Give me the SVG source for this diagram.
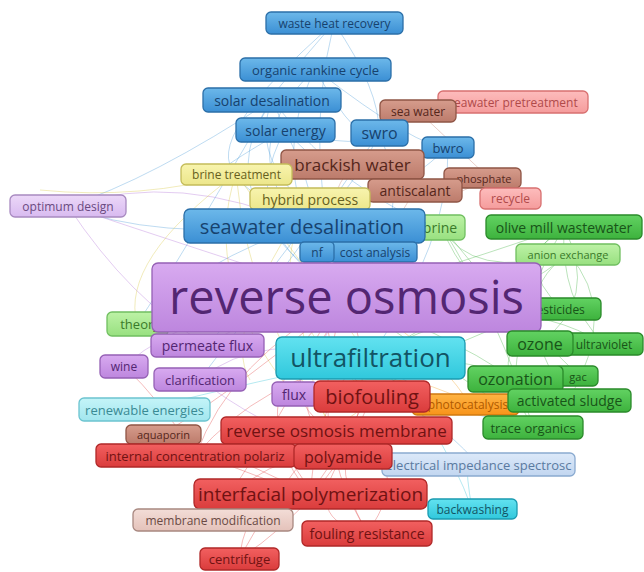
<svg xmlns="http://www.w3.org/2000/svg" width="644" height="572" viewBox="0 0 644 572">
<defs>
<linearGradient id="g-blue" x1="0" y1="0" x2="0" y2="1"><stop offset="0" stop-color="#6cb8ea"/><stop offset="1" stop-color="#3b8fd4"/></linearGradient>
<linearGradient id="g-purple" x1="0" y1="0" x2="0" y2="1"><stop offset="0" stop-color="#d8aaf0"/><stop offset="1" stop-color="#bd86de"/></linearGradient>
<linearGradient id="g-red" x1="0" y1="0" x2="0" y2="1"><stop offset="0" stop-color="#f26060"/><stop offset="1" stop-color="#da3c3c"/></linearGradient>
<linearGradient id="g-green" x1="0" y1="0" x2="0" y2="1"><stop offset="0" stop-color="#62d262"/><stop offset="1" stop-color="#3db23d"/></linearGradient>
<linearGradient id="g-lgreen" x1="0" y1="0" x2="0" y2="1"><stop offset="0" stop-color="#bdf2a6"/><stop offset="1" stop-color="#98e080"/></linearGradient>
<linearGradient id="g-brown" x1="0" y1="0" x2="0" y2="1"><stop offset="0" stop-color="#d69c8c"/><stop offset="1" stop-color="#bc7b6b"/></linearGradient>
<linearGradient id="g-pink" x1="0" y1="0" x2="0" y2="1"><stop offset="0" stop-color="#fdbcbc"/><stop offset="1" stop-color="#f59c9c"/></linearGradient>
<linearGradient id="g-yellow" x1="0" y1="0" x2="0" y2="1"><stop offset="0" stop-color="#f8f4ae"/><stop offset="1" stop-color="#ece68a"/></linearGradient>
<linearGradient id="g-cyan" x1="0" y1="0" x2="0" y2="1"><stop offset="0" stop-color="#62e2f0"/><stop offset="1" stop-color="#30c8dc"/></linearGradient>
<linearGradient id="g-lcyan" x1="0" y1="0" x2="0" y2="1"><stop offset="0" stop-color="#c4f4f8"/><stop offset="1" stop-color="#a2e6ee"/></linearGradient>
<linearGradient id="g-lblue" x1="0" y1="0" x2="0" y2="1"><stop offset="0" stop-color="#dce9f9"/><stop offset="1" stop-color="#c2d6f0"/></linearGradient>
<linearGradient id="g-orange" x1="0" y1="0" x2="0" y2="1"><stop offset="0" stop-color="#ffb444"/><stop offset="1" stop-color="#f8941a"/></linearGradient>
<linearGradient id="g-lpurple" x1="0" y1="0" x2="0" y2="1"><stop offset="0" stop-color="#ecd8f8"/><stop offset="1" stop-color="#d8baf0"/></linearGradient>
<linearGradient id="g-lbrown" x1="0" y1="0" x2="0" y2="1"><stop offset="0" stop-color="#f3ddd7"/><stop offset="1" stop-color="#e4c2ba"/></linearGradient>
</defs>
<style>
text{font-family:"Open Sans","DejaVu Sans",sans-serif;text-anchor:middle;dominant-baseline:central}
rect{stroke-width:1.3}
.blue rect{fill:url(#g-blue);stroke:#2b6fa8}.blue text{fill:#17426e}
.purple rect{fill:url(#g-purple);stroke:#9560b5}.purple text{fill:#532672}
.red rect{fill:url(#g-red);stroke:#b02828}.red text{fill:#701212}
.green rect{fill:url(#g-green);stroke:#2a8a2a}.green text{fill:#185418}
.lgreen rect{fill:url(#g-lgreen);stroke:#70bf60}.lgreen text{fill:#3a7a2a}
.brown rect{fill:url(#g-brown);stroke:#8f5545}.brown text{fill:#55261b}
.pink rect{fill:url(#g-pink);stroke:#d87070}.pink text{fill:#b04a4a}
.yellow rect{fill:url(#g-yellow);stroke:#c4bc5a}.yellow text{fill:#666020}
.cyan rect{fill:url(#g-cyan);stroke:#1a9ab0}.cyan text{fill:#125464}
.lcyan rect{fill:url(#g-lcyan);stroke:#6cc4d0}.lcyan text{fill:#3a8a94}
.lblue rect{fill:url(#g-lblue);stroke:#8aaad0}.lblue text{fill:#5a7aa0}
.orange rect{fill:url(#g-orange);stroke:#d07a10}.orange text{fill:#b05a00}
.lpurple rect{fill:url(#g-lpurple);stroke:#a88ac0}.lpurple text{fill:#6a4a80}
.lbrown rect{fill:url(#g-lbrown);stroke:#a88880}.lbrown text{fill:#6a4a44}
#connectors path{fill:none;stroke-width:0.8;stroke-opacity:0.45}
.cb{stroke:#4a9ad8}.cr{stroke:#e04040}.cg{stroke:#40b040}.cp{stroke:#b070d8}.cy{stroke:#d8c840}.co{stroke:#f0a020}.cc{stroke:#30c0d8}.cbr{stroke:#c07a6a}
</style>
<g id="connectors">
<path class="cb" d="M334 23 Q300 160 346 297"/>
<path class="cb" d="M315 69 Q260 180 346 297"/>
<path class="cb" d="M272 100 Q200 200 346 297"/>
<path class="cb" d="M285 130 Q230 230 346 297"/>
<path class="cb" d="M379 133 Q420 220 346 297"/>
<path class="cb" d="M448 147 Q450 240 370 358"/>
<path class="cb" d="M272 100 Q150 180 68 206"/>
<path class="cb" d="M285 130 Q180 190 236 174"/>
<path class="cb" d="M315 69 Q230 150 304 226"/>
<path class="cb" d="M334 23 Q250 120 272 100"/>
<path class="cb" d="M304 226 Q200 260 137 324"/>
<path class="cb" d="M304 226 Q150 240 68 206"/>
<path class="cb" d="M272 100 Q350 200 442 227"/>
<path class="cb" d="M285 130 Q380 160 418 111"/>
<path class="cb" d="M379 133 Q300 250 200 379"/>
<path class="cb" d="M315 69 Q360 150 379 133"/>
<path class="cb" d="M334 23 Q380 90 379 133"/>
<path class="cb" d="M272 100 Q300 170 352 164"/>
<path class="cb" d="M285 130 Q320 200 317 252"/>
<path class="cb" d="M272 100 Q240 180 375 252"/>
<path class="cb" d="M315 69 Q420 150 448 147"/>
<path class="cb" d="M304 226 Q230 180 236 174"/>
<path class="cb" d="M304 226 Q250 300 207 345"/>
<path class="cb" d="M379 133 Q350 200 304 226"/>
<path class="cb" d="M448 147 Q380 210 304 226"/>
<path class="cb" d="M334 23 Q200 140 236 174"/>
<path class="cb" d="M272 100 Q180 260 137 324"/>
<path class="cbr" d="M352 164 Q440 220 482 178"/>
<path class="cbr" d="M418 111 Q470 160 510 198"/>
<path class="cbr" d="M352 164 Q300 240 346 297"/>
<path class="cbr" d="M415 190 Q380 250 346 297"/>
<path class="cp" d="M68 206 Q200 250 346 297"/>
<path class="cp" d="M68 206 Q130 300 207 345"/>
<path class="cp" d="M124 366 Q200 300 346 297"/>
<path class="cp" d="M200 379 Q260 330 370 358"/>
<path class="cp" d="M68 206 Q180 170 304 226"/>
<path class="cy" d="M236 174 Q200 280 293 394"/>
<path class="cy" d="M310 199 Q250 300 372 396"/>
<path class="cy" d="M236 174 Q120 260 137 324"/>
<path class="cy" d="M236 174 Q140 200 40 190"/>
<path class="cy" d="M310 199 Q220 330 250 380"/>
<path class="cy" d="M236 174 Q250 320 336 430"/>
<path class="cy" d="M310 199 Q280 340 343 456"/>
<path class="cy" d="M236 174 Q300 260 370 358"/>
<path class="cg" d="M564 227 Q480 300 370 358"/>
<path class="cg" d="M568 254 Q480 330 346 297"/>
<path class="cg" d="M562 309 Q460 330 372 396"/>
<path class="cg" d="M540 343 Q460 280 442 227"/>
<path class="cg" d="M604 344 Q500 280 370 358"/>
<path class="cg" d="M515 379 Q440 330 346 297"/>
<path class="cg" d="M569 400 Q470 350 370 358"/>
<path class="cg" d="M533 427 Q450 370 346 297"/>
<path class="cg" d="M579 376 Q500 300 442 227"/>
<path class="cg" d="M564 227 Q600 300 540 343"/>
<path class="cg" d="M568 254 Q620 310 569 400"/>
<path class="cg" d="M137 324 Q250 300 346 297"/>
<path class="cg" d="M442 227 Q500 320 533 427"/>
<path class="cg" d="M564 227 Q470 260 346 297"/>
<path class="cg" d="M137 324 Q300 270 442 227"/>
<path class="cg" d="M564 227 Q520 300 515 379"/>
<path class="cg" d="M568 254 Q470 280 442 227"/>
<path class="cg" d="M604 344 Q560 300 564 227"/>
<path class="cg" d="M533 427 Q480 340 540 343"/>
<path class="cg" d="M569 400 Q500 300 568 254"/>
<path class="cg" d="M562 309 Q510 260 564 227"/>
<path class="cr" d="M336 430 Q260 400 346 297"/>
<path class="cr" d="M310 494 Q230 400 346 297"/>
<path class="cr" d="M239 559 Q300 450 336 430"/>
<path class="cr" d="M367 533 Q320 450 372 396"/>
<path class="cr" d="M343 456 Q260 380 372 396"/>
<path class="cr" d="M196 455 Q260 380 370 358"/>
<path class="cr" d="M213 520 Q260 450 343 456"/>
<path class="cr" d="M310 494 Q200 440 163 434"/>
<path class="cr" d="M239 559 Q330 500 372 396"/>
<path class="cr" d="M196 455 Q300 420 343 456"/>
<path class="cr" d="M367 533 Q420 460 336 430"/>
<path class="cr" d="M213 520 Q280 420 346 297"/>
<path class="cr" d="M310 494 Q320 380 370 358"/>
<path class="cr" d="M343 456 Q380 380 346 297"/>
<path class="cr" d="M163 434 Q250 380 346 297"/>
<path class="cr" d="M372 396 Q300 330 346 297"/>
<path class="cr" d="M196 455 Q230 360 346 297"/>
<path class="cr" d="M310 494 Q280 420 196 455"/>
<path class="cr" d="M367 533 Q300 420 346 297"/>
<path class="cr" d="M239 559 Q250 480 310 494"/>
<path class="cr" d="M213 520 Q240 470 310 494"/>
<path class="cr" d="M163 434 Q230 470 310 494"/>
<path class="cr" d="M343 456 Q300 520 367 533"/>
<path class="cr" d="M196 455 Q160 400 124 366"/>
<path class="cr" d="M310 494 Q360 420 343 456"/>
<path class="co" d="M470 404 Q420 330 346 297"/>
<path class="co" d="M470 404 Q380 380 336 430"/>
<path class="co" d="M470 404 Q400 360 293 394"/>
<path class="cc" d="M472 509 Q440 420 370 358"/>
<path class="cc" d="M144 409 Q260 380 370 358"/>
<path class="cc" d="M472 509 Q460 440 478 464"/>
<path class="cc" d="M370 358 Q460 420 533 427"/>
<path class="cb" d="M478 464 Q420 400 372 396"/>
<path class="cp" d="M207 345 Q280 300 346 297"/>
<path class="cp" d="M293 394 Q330 330 346 297"/>
<path class="cp" d="M200 379 Q250 420 343 456"/>
</g>
<g id="n-waste-heat-recovery" class="blue"><rect x="266" y="12" width="137" height="22" rx="5"/><text x="334.5" y="23" font-size="12">waste heat recovery</text></g>
<g id="n-organic-rankine-cycle" class="blue"><rect x="240" y="58" width="151" height="23" rx="5"/><text x="315.5" y="69.5" font-size="13">organic rankine cycle</text></g>
<g id="n-solar-desalination" class="blue"><rect x="203" y="88" width="138" height="24" rx="5"/><text x="272" y="100" font-size="14">solar desalination</text></g>
<g id="n-solar-energy" class="blue"><rect x="236" y="118" width="99" height="24" rx="5"/><text x="285.5" y="130" font-size="14">solar energy</text></g>
<g id="n-seawater-pretreatment" class="pink"><rect x="438" y="91" width="150" height="22" rx="5"/><text x="513" y="102" font-size="12">seawater pretreatment</text></g>
<g id="n-sea-water" class="brown"><rect x="380" y="100" width="76" height="22" rx="5"/><text x="418" y="111" font-size="12">sea water</text></g>
<g id="n-swro" class="blue"><rect x="351" y="120" width="57" height="26" rx="5"/><text x="379.5" y="133" font-size="16">swro</text></g>
<g id="n-bwro" class="blue"><rect x="422" y="137" width="52" height="21" rx="5"/><text x="448" y="147.5" font-size="13">bwro</text></g>
<g id="n-brackish-water" class="brown"><rect x="281" y="150" width="143" height="29" rx="5"/><text x="352.5" y="164.5" font-size="17">brackish water</text></g>
<g id="n-brine-treatment" class="yellow"><rect x="181" y="164" width="111" height="21" rx="5"/><text x="236.5" y="174.5" font-size="12">brine treatment</text></g>
<g id="n-phosphate" class="brown"><rect x="444" y="168" width="77" height="20" rx="5"/><text x="484" y="178" font-size="11">phosphate</text></g>
<g id="n-antiscalant" class="brown"><rect x="368" y="179" width="94" height="23" rx="5"/><text x="415" y="190.5" font-size="14">antiscalant</text></g>
<g id="n-recycle" class="pink"><rect x="480" y="188" width="61" height="21" rx="5"/><text x="510.5" y="198.5" font-size="12">recycle</text></g>
<g id="n-hybrid-process" class="yellow"><rect x="250" y="188" width="120" height="22" rx="5"/><text x="310" y="199" font-size="14">hybrid process</text></g>
<g id="n-optimum-design" class="lpurple"><rect x="10" y="195" width="116" height="22" rx="5"/><text x="68" y="206" font-size="12">optimum design</text></g>
<g id="n-brine" class="lgreen"><rect x="412" y="215" width="53" height="25" rx="5"/><text x="440" y="227.5" font-size="14">brine</text></g>
<g id="n-seawater-desalination" class="blue"><rect x="184" y="209" width="241" height="34" rx="6"/><text x="302" y="226" font-size="20">seawater desalination</text></g>
<g id="n-olive-mill-wastewater" class="green"><rect x="486" y="215" width="156" height="24" rx="5"/><text x="564" y="227" font-size="14">olive mill wastewater</text></g>
<g id="n-cost-analysis" class="blue"><rect x="330" y="242" width="87" height="20" rx="4"/><text x="375" y="252" font-size="12">cost analysis</text></g>
<g id="n-nf" class="blue"><rect x="300" y="242" width="34" height="20" rx="4"/><text x="317" y="252" font-size="12">nf</text></g>
<g id="n-anion-exchange" class="lgreen"><rect x="516" y="244" width="104" height="21" rx="5"/><text x="568" y="254.5" font-size="11">anion exchange</text></g>
<g id="n-pesticides" class="green"><rect x="510" y="298" width="91" height="22" rx="5"/><text x="557" y="309" font-size="12">pesticides</text></g>
<g id="n-theory" class="lgreen"><rect x="107" y="312" width="61" height="24" rx="5"/><text x="140" y="324" font-size="13">theory</text></g>
<g id="n-reverse-osmosis" class="purple"><rect x="152" y="263" width="389" height="69" rx="6"/><text x="346.5" y="296" font-size="47">reverse osmosis</text></g>
<g id="n-ultraviolet" class="green"><rect x="560" y="333" width="83" height="22" rx="5"/><text x="604" y="344" font-size="12">ultraviolet</text></g>
<g id="n-ozone" class="green"><rect x="507" y="331" width="66" height="25" rx="5"/><text x="540" y="343.5" font-size="16">ozone</text></g>
<g id="n-permeate-flux" class="purple"><rect x="151" y="334" width="113" height="23" rx="5"/><text x="207.5" y="345.5" font-size="14">permeate flux</text></g>
<g id="n-ultrafiltration" class="cyan"><rect x="276" y="337" width="189" height="42" rx="6"/><text x="370.5" y="357" font-size="26">ultrafiltration</text></g>
<g id="n-wine" class="purple"><rect x="100" y="355" width="48" height="23" rx="5"/><text x="124" y="366.5" font-size="12">wine</text></g>
<g id="n-clarification" class="purple"><rect x="154" y="368" width="92" height="23" rx="5"/><text x="200" y="379.5" font-size="13">clarification</text></g>
<g id="n-gac" class="green"><rect x="555" y="366" width="43" height="20" rx="5"/><text x="578" y="376" font-size="11">gac</text></g>
<g id="n-ozonation" class="green"><rect x="468" y="366" width="95" height="26" rx="5"/><text x="515.5" y="379" font-size="16">ozonation</text></g>
<g id="n-flux" class="purple"><rect x="272" y="382" width="46" height="24" rx="5"/><text x="294" y="394" font-size="14">flux</text></g>
<g id="n-photocatalysis" class="orange"><rect x="412" y="394" width="107" height="21" rx="5"/><text x="468" y="404.5" font-size="12">photocatalysis</text></g>
<g id="n-biofouling" class="red"><rect x="314" y="381" width="116" height="31" rx="6"/><text x="372" y="396.5" font-size="20">biofouling</text></g>
<g id="n-activated-sludge" class="green"><rect x="508" y="389" width="123" height="23" rx="5"/><text x="569.5" y="400.5" font-size="14">activated sludge</text></g>
<g id="n-renewable-energies" class="lcyan"><rect x="79" y="398" width="131" height="23" rx="5"/><text x="144.5" y="409.5" font-size="13">renewable energies</text></g>
<g id="n-trace-organics" class="green"><rect x="483" y="416" width="100" height="23" rx="5"/><text x="533" y="427.5" font-size="13">trace organics</text></g>
<g id="n-aquaporin" class="brown"><rect x="126" y="425" width="75" height="19" rx="5"/><text x="163.5" y="434.5" font-size="11">aquaporin</text></g>
<g id="n-reverse-osmosis-membrane" class="red"><rect x="221" y="417" width="231" height="27" rx="5"/><text x="336.5" y="430.5" font-size="17">reverse osmosis membrane</text></g>
<g id="n-electrical-impedance-spectrosc" class="lblue"><rect x="382" y="453" width="193" height="23" rx="5"/><text x="478.5" y="464.5" font-size="13">electrical impedance spectrosc</text></g>
<g id="n-internal-concentration-polariz" class="red"><rect x="96" y="444" width="200" height="23" rx="5"/><text x="195" y="455.5" font-size="13">internal concentration polariz</text></g>
<g id="n-polyamide" class="red"><rect x="294" y="444" width="98" height="25" rx="5"/><text x="343" y="456.5" font-size="16">polyamide</text></g>
<g id="n-interfacial-polymerization" class="red"><rect x="194" y="479" width="233" height="30" rx="6"/><text x="310.5" y="494" font-size="19">interfacial polymerization</text></g>
<g id="n-backwashing" class="cyan"><rect x="428" y="499" width="89" height="20" rx="5"/><text x="472.5" y="509" font-size="12">backwashing</text></g>
<g id="n-membrane-modification" class="lbrown"><rect x="133" y="509" width="160" height="22" rx="5"/><text x="213" y="520" font-size="12">membrane modification</text></g>
<g id="n-fouling-resistance" class="red"><rect x="302" y="521" width="130" height="25" rx="5"/><text x="367" y="533.5" font-size="14">fouling resistance</text></g>
<g id="n-centrifuge" class="red"><rect x="200" y="548" width="79" height="22" rx="5"/><text x="239.5" y="559" font-size="13">centrifuge</text></g>
</svg>
